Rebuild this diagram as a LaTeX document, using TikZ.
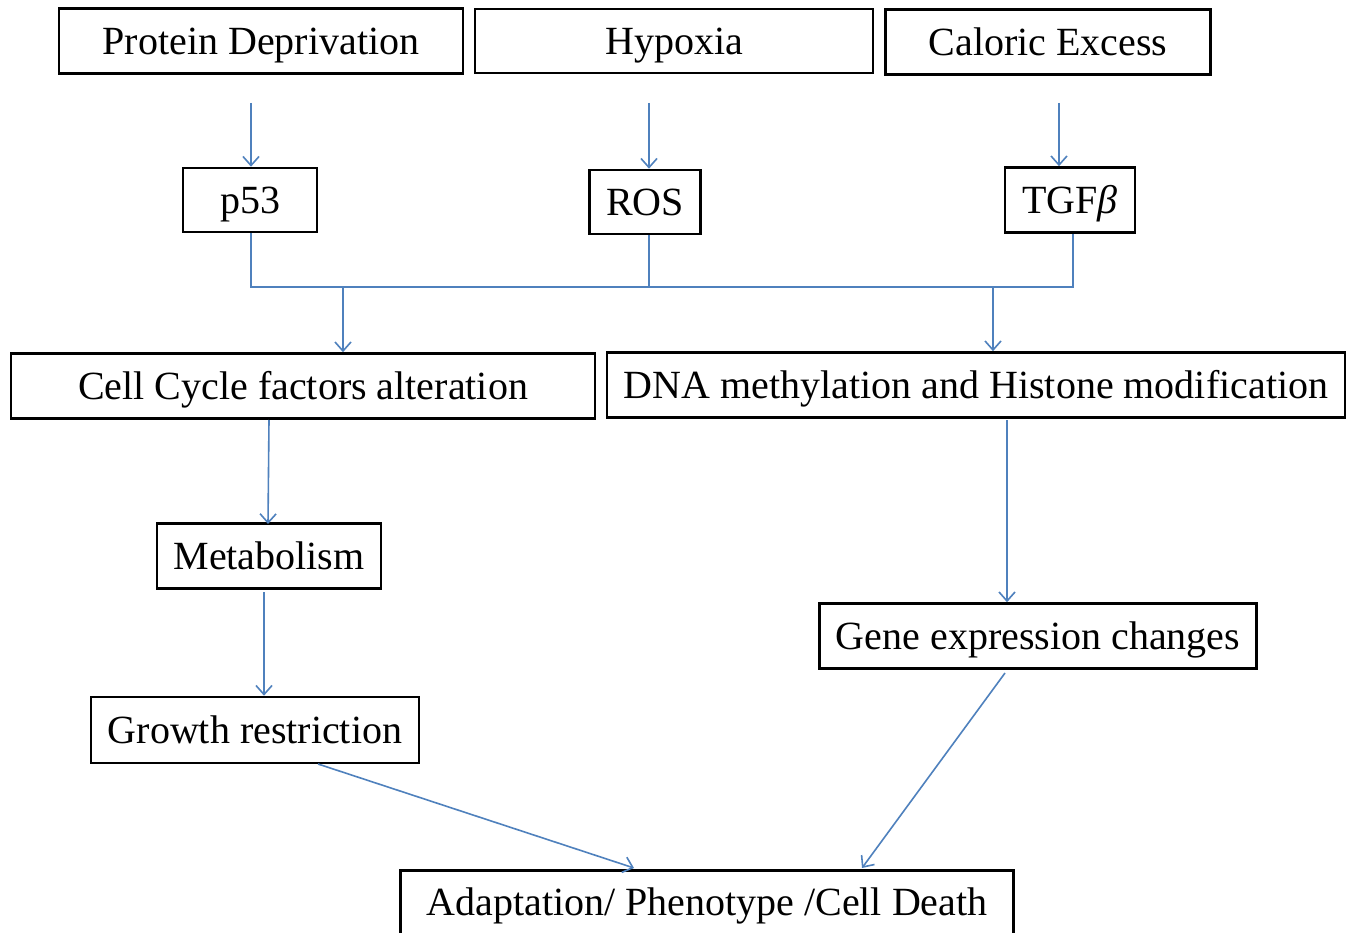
\documentclass[tikz,border=0pt]{standalone}
\usepackage{fontspec}
\setmainfont{Liberation Serif}
\usetikzlibrary{arrows.meta}
\definecolor{arrblue}{RGB}{79,129,189}
\tikzset{
  bx/.style={draw=black, line width=2.6pt, fill=white, inner sep=0pt,
    font=\fontsize{40}{46}\selectfont, text height=26.5pt, text depth=0pt},
  lbl/.style={inner sep=0pt, font=\fontsize{40}{46}\selectfont, text height=26.5pt, text depth=0pt},
  link/.style={draw=arrblue, line width=1.6pt},
  arr/.style={link, -{Straight Barb[length=9pt,width=16pt,line width=1.6pt]}}
}
\begin{document}
\begin{tikzpicture}[x=1pt,y=-1pt]
\useasboundingbox (0,0) rectangle (1354,933);
\clip (0,0) rectangle (1354,933);
\fill[white] (0,0) rectangle (1354,933);
% top row
\node[bx, minimum width=404pt, minimum height=65pt] (pd) at (261,41) {Protein Deprivation};
\node[bx, minimum width=398pt, minimum height=64pt] (hy) at (674,41) {Hypoxia};
\node[bx, minimum width=325pt, minimum height=65pt] (ce) at (1048,42) {Caloric Excess};
% second row
\node[bx, minimum width=134pt, minimum height=64pt] (p53) at (250,200) {p53};
\node[bx, minimum width=111pt, minimum height=64pt] (ros) at (645,202) {ROS};
\node[bx, minimum width=130pt, minimum height=65pt] (tgf) at (1070,200) {TGF\textit{β}};
% third row
\node[bx, minimum width=584pt, minimum height=65pt] (cc) at (303,386) {Cell Cycle factors alteration};
\node[bx, minimum width=738pt, minimum height=65pt] (dna) at (976,385) {DNA methylation and Histone modification};
% left branch
\node[bx, minimum width=224pt, minimum height=65pt] (met) at (269,556) {Metabolism};
\node[bx, minimum width=328pt, minimum height=66pt] (gr) at (255,730) {Growth restriction};
% right branch
\node[bx, minimum width=437pt, minimum height=65pt] (ge) at (1038,636) {Gene expression changes};
% bottom
\node[bx, minimum width=613pt, minimum height=80pt, anchor=north] (ad) at (707,869) {};
\node[lbl] (adt) at (707,902) {Adaptation/ Phenotype /Cell Death};
% connectors top
\coordinate (s1) at (251,103);
\coordinate (s2) at (649,103);
\coordinate (s3) at (1059,103);
\draw[arr] (s1) -- (s1 |- p53.north);
\draw[arr] (s2) -- (s2 |- ros.north);
\draw[arr] (s3) -- (s3 |- tgf.north);
% junction
\coordinate (j1) at (251,287);
\coordinate (j3) at (1073,287);
\coordinate (jc) at (343,287);
\coordinate (jd) at (993,287);
\draw[link] (j1 |- p53.south) -- (j1) -- (j3) -- (j3 |- tgf.south);
\draw[link] (ros.south -| s2) -- (s2 |- j1);
\draw[arr] (jc) -- (jc |- cc.north);
\draw[arr] (jd) -- (jd |- dna.north);
% left chain
\coordinate (c1) at (269,420);
\draw[arr] (c1) -- (268,524) coordinate (c1e);
\coordinate (m1) at (264,592);
\draw[arr] (m1) -- (m1 |- gr.north);
\coordinate (g1) at (318,764);
\coordinate (a1) at (634,868);
\draw[arr] (g1) -- (a1);
% right chain
\coordinate (d1) at (1007,420);
\draw[arr] (d1) -- (d1 |- ge.north);
\coordinate (e1) at (1005,673);
\coordinate (a2) at (862,868);
\draw[arr] (e1) -- (a2);
\end{tikzpicture}
\end{document}
